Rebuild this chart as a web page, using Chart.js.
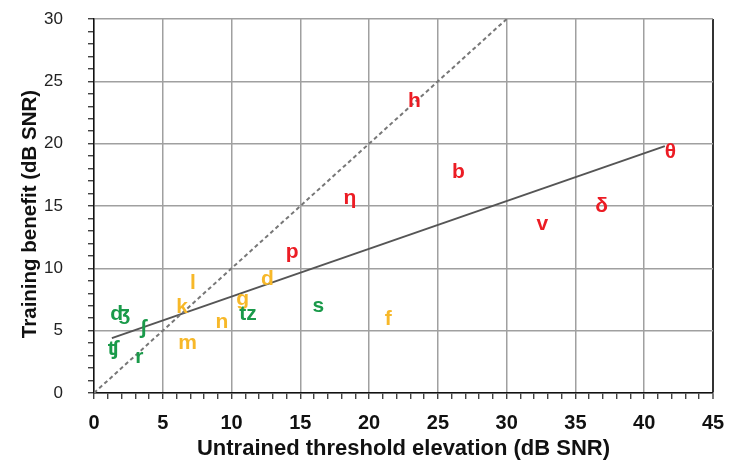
<!DOCTYPE html>
<html>
<head>
<meta charset="utf-8">
<script src="https://cdn.jsdelivr.net/npm/chart.js"></script>
<style>
  html, body { margin: 0; padding: 0; background: #fff; }
  #wrap { width: 750px; height: 471px; }
</style>
</head>
<body>
<div id="wrap"><canvas id="c" width="750" height="471"></canvas></div>
<script>
// ---- data ----
const redLabels = ['h', 'θ', 'b', 'η', 'p', 'v', 'δ'];
const redX = [23.3, 41.9, 26.5, 18.6, 14.4, 32.6, 36.9];
const redY = [23.4, 19.3, 17.7, 15.6, 11.3, 13.5, 15.0];

const orangeLabels = ['l', 'd', 'k', 'g', 'n', 'm', 'f'];
const orangeX = [7.2, 12.6, 6.4, 10.8, 9.3, 6.8, 21.4];
const orangeY = [8.8, 9.1, 6.9, 7.5, 5.7, 4.0, 5.9];

const greenLabels = ['s', 'tz', 'ʤ', 'ʃ', 'ʧ', 'r'];
const greenX = [16.3, 11.2, 1.9, 3.6, 1.4, 3.3];
const greenY = [7.0, 6.3, 6.3, 5.2, 3.5, 2.9];

const identityX = [0, 30];
const identityY = [0, 30];
const fitX = [1.3, 41.5];
const fitY = [4.4, 19.8];

const xTickLabels = [0, 5, 10, 15, 20, 25, 30, 35, 40, 45];
const yTickLabels = [0, 5, 10, 15, 20, 25, 30];
const yTitle = 'Training benefit (dB SNR)';
const xTitle = 'Untrained threshold elevation (dB SNR)';

const toPts = (xs, ys) => xs.map((x, i) => ({ x: x, y: ys[i] }));

const textPlugin = {
  id: 'textPoints',
  afterDatasetsDraw(chart) {
    const ctx = chart.ctx;
    chart.data.datasets.forEach((ds, di) => {
      if (!ds.textLabels) return;
      const meta = chart.getDatasetMeta(di);
      ctx.save();
      ctx.fillStyle = ds.textColor;
      ctx.font = 'bold 21px "Liberation Sans", "DejaVu Sans", sans-serif';
      ctx.textAlign = 'center';
      ctx.textBaseline = 'middle';
      meta.data.forEach((el, i) => {
        ctx.fillText(ds.textLabels[i], el.x, el.y);
      });
      ctx.restore();
    });
  },
  afterDraw(chart) {
    const ctx = chart.ctx;
    const a = chart.chartArea;
    ctx.save();
    ctx.translate(30, (a.top + a.bottom) / 2 + 8);
    ctx.rotate(-Math.PI / 2);
    ctx.fillStyle = '#111';
    ctx.font = 'bold 20.5px "Liberation Sans", sans-serif';
    ctx.textAlign = 'center';
    ctx.textBaseline = 'middle';
    ctx.fillText(yTitle, 0, 0);
    ctx.restore();
  }
};

const labelDs = (labels, xs, ys, color) => ({
  type: 'scatter',
  data: toPts(xs, ys),
  textLabels: labels,
  textColor: color,
  pointRadius: 0,
  pointHoverRadius: 0,
  showLine: false
});

const chart = new Chart(document.getElementById('c'), {
  type: 'scatter',
  data: {
    datasets: [
      {
        type: 'line',
        data: toPts(identityX, identityY),
        borderColor: '#777',
        borderWidth: 2,
        borderDash: [4, 3],
        pointRadius: 0,
        fill: false
      },
      {
        type: 'line',
        data: toPts(fitX, fitY),
        borderColor: '#555',
        borderWidth: 2,
        pointRadius: 0,
        fill: false
      },
      labelDs(redLabels, redX, redY, '#ec1c24'),
      labelDs(orangeLabels, orangeX, orangeY, '#f7b829'),
      labelDs(greenLabels, greenX, greenY, '#1a9a4a')
    ]
  },
  options: {
    responsive: false,
    animation: false,
    events: [],
    layout: { padding: { top: 19, right: 37, left: 0, bottom: 0 } },
    plugins: { legend: { display: false }, tooltip: { enabled: false } },
    scales: {
      x: {
        type: 'linear',
        min: 0, max: 45,
        afterFit(s) { s.height = 78; s.paddingLeft = 0; s.paddingRight = 0; },
        afterBuildTicks(s) {
          const t = [];
          for (let v = 0; v <= 45; v++) t.push({ value: v });
          s.ticks = t;
        },
        ticks: {
          autoSkip: false,
          maxRotation: 0,
          padding: 12,
          color: '#111',
          font: { family: '"Liberation Sans Narrow", "Liberation Sans", sans-serif', size: 20, weight: 'bold' },
          callback: (v) => xTickLabels.includes(v) ? String(v) : ''
        },
        grid: {
          color: (c) => c.tick && c.tick.value === 45 ? '#333' : (c.tick && c.tick.value % 5 === 0 ? '#a0a0a0' : 'rgba(0,0,0,0)'),
          lineWidth: (c) => c.tick && c.tick.value === 45 ? 2 : 1.5,
          tickColor: '#222',
          tickLength: 6,
          tickWidth: 1.2
        },
        border: { display: true, color: '#111', width: 1.5 },
        title: {
          display: true,
          text: xTitle,
          color: '#111',
          font: { family: '"Liberation Sans", sans-serif', size: 22, weight: 'bold' },
          padding: { top: 0, bottom: 9 }
        }
      },
      y: {
        type: 'linear',
        min: 0, max: 30,
        afterFit(s) { s.width = 94; s.paddingTop = 0; s.paddingBottom = 0; },
        afterBuildTicks(s) {
          const t = [];
          for (let v = 0; v <= 30; v++) t.push({ value: v });
          s.ticks = t;
        },
        ticks: {
          autoSkip: false,
          padding: 25,
          color: '#222',
          font: { family: '"Liberation Sans", sans-serif', size: 17 },
          callback: (v) => yTickLabels.includes(v) ? String(v) : ''
        },
        grid: {
          color: (c) => c.tick && c.tick.value % 5 === 0 ? '#a0a0a0' : 'rgba(0,0,0,0)',
          lineWidth: 1.5,
          tickColor: '#222',
          tickLength: 6,
          tickWidth: 1.2
        },
        border: { display: true, color: '#111', width: 1.5 },
        title: { display: false }
      }
    }
  },
  plugins: [textPlugin]
});
</script>
</body>
</html>
